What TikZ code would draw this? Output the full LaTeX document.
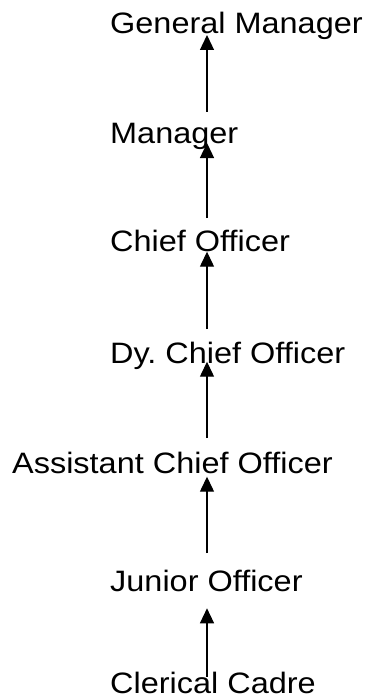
\documentclass[tikz,border=0pt]{standalone}
\usepackage{fontspec}
\setmainfont[FakeStretch=1.1]{Liberation Sans}
\usetikzlibrary{arrows.meta}
\begin{document}
\begin{tikzpicture}[x=1pt,y=-1pt,
  lbl/.style={anchor=base west,inner sep=0pt,font=\fontsize{29.5}{34}\selectfont\frenchspacing},
  arr/.style={line width=1.3pt,-{Triangle[length=15pt,width=14pt]}}]
\useasboundingbox (0,0) rectangle (364,698);
\node[lbl] (gm) at (110,33.3) {General Manager};
\node[lbl] (mg) at (110,143.3) {Manager};
\node[lbl] (co) at (110,251.7) {Chief Officer};
\node[lbl] (dy) at (110,363) {Dy. Chief Officer};
\node[lbl] (ac) at (12,473) {Assistant Chief Officer};
\node[lbl] (jo) at (110,591.7) {Junior Officer};
\node[lbl] (cc) at (110,693) {Clerical Cadre};
\coordinate (t1) at (207,35);    \coordinate (b1) at (207,111.7);
\coordinate (t2) at (207,143);   \coordinate (b2) at (207,218);
\coordinate (t3) at (207,251.7); \coordinate (b3) at (207,329);
\coordinate (t4) at (207,361.7); \coordinate (b4) at (207,438);
\coordinate (t5) at (207,476.7); \coordinate (b5) at (207,553);
\coordinate (t6) at (207,608.3); \coordinate (b6) at (207,676.7);
\draw[arr] (b1) -- (t1);
\draw[arr] (b2) -- (t2);
\draw[arr] (b3) -- (t3);
\draw[arr] (b4) -- (t4);
\draw[arr] (b5) -- (t5);
\draw[arr] (b6) -- (t6);
\end{tikzpicture}
\end{document}
